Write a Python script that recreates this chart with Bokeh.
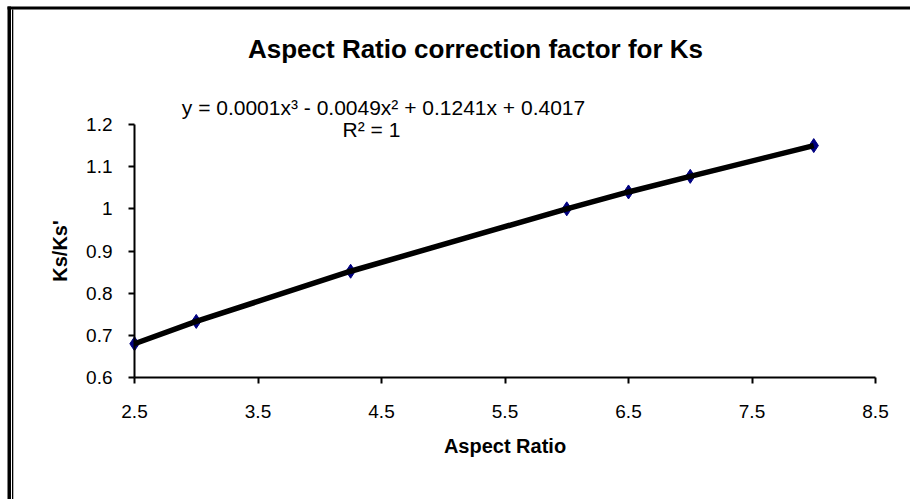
from bokeh.plotting import figure
from bokeh.models import Range1d, FixedTicker, Label
from bokeh.embed import file_html
from bokeh.resources import INLINE

# Measured correction factor against aspect ratio
aspect_ratio = [2.5, 3.0, 4.25, 6.0, 6.5, 7.0, 8.0]
ks_ratio = [0.68, 0.733, 0.852, 1.0, 1.04, 1.077, 1.15]

x_ticks = [2.5, 3.5, 4.5, 5.5, 6.5, 7.5, 8.5]
y_ticks = [0.6, 0.7, 0.8, 0.9, 1.0, 1.1, 1.2]

title_text = "Aspect Ratio correction factor for Ks"
equation_text = "y = 0.0001x\u00b3 - 0.0049x\u00b2 + 0.1241x + 0.4017"
r2_text = "R\u00b2 = 1"

FONT = "'Liberation Sans', Arial, sans-serif"

W, H = 910, 499
# pixel box of the plotting area inside the chart
PX_L, PX_R, PX_T, PX_B = 134, 875, 124, 377
x0, x1 = x_ticks[0], x_ticks[-1]
y0, y1 = y_ticks[0], y_ticks[-1]
sx = (PX_R - PX_L) / (x1 - x0)
sy = (PX_B - PX_T) / (y1 - y0)


def xd(px):
    """Canvas pixel column -> data x."""
    return x0 + (px - PX_L) / sx


def yd(py):
    """Canvas pixel row (from the top) -> data y."""
    return y0 + (PX_B - py) / sy


# the frame covers the whole canvas; axes sit at fixed data locations
p = figure(
    width=W, height=H,
    x_range=Range1d(xd(0), xd(W)),
    y_range=Range1d(yd(H), yd(0)),
    output_backend="svg", toolbar_location=None,
    min_border=0,
)
p.outline_line_color = None
p.grid.visible = False
p.background_fill_color = "white"
p.border_fill_color = "white"

for ax in (p.xaxis[0], p.yaxis[0]):
    ax.axis_line_color = "black"
    ax.axis_line_width = 2
    ax.major_tick_line_color = "black"
    ax.major_tick_line_width = 2
    ax.major_tick_out = 6
    ax.major_tick_in = 0
    ax.minor_tick_line_color = None
    ax.major_label_text_font = FONT
    ax.major_label_text_font_size = "19px"
    ax.major_label_text_color = "black"
    ax.axis_label_text_font = FONT
    ax.axis_label_text_font_size = "20px"
    ax.axis_label_text_font_style = "bold"
    ax.axis_label_text_color = "black"

p.xaxis.fixed_location = y0
p.yaxis.fixed_location = x0
p.xaxis.bounds = (x0, x1)
p.yaxis.bounds = (y0, y1)
p.xaxis.ticker = FixedTicker(ticks=x_ticks)
p.yaxis.ticker = FixedTicker(ticks=y_ticks)
p.yaxis.major_label_overrides = {1.0: "1"}
p.xaxis.axis_label = "Aspect Ratio"
p.yaxis.axis_label = "Ks/Ks'"
p.xaxis.major_label_standoff = 21
p.yaxis.major_label_standoff = 16
p.xaxis.axis_label_standoff = 14
p.yaxis.axis_label_standoff = 12

# chart border: heavy rule across the top, double rule down the left
p.quad(left=[xd(7), xd(7), xd(11.5)],
       right=[xd(W + 30), xd(10.5), xd(12.8)],
       top=[yd(6), yd(6), yd(9)],
       bottom=[yd(9), yd(H + 30), yd(H + 30)],
       fill_color="black", line_color=None)

# data markers and the cubic trendline through them
p.scatter(aspect_ratio, ks_ratio, marker="diamond", size=14,
          fill_color="#000080", line_color="#000080")
p.line(aspect_ratio, ks_ratio, line_color="black", line_width=5.5)


def screen_label(cx, cy, text, size, bold=False):
    return Label(x=xd(cx), y=yd(cy), text=text, text_font=FONT,
                 text_font_size=size,
                 text_font_style="bold" if bold else "normal",
                 text_color="black", text_align="center",
                 text_baseline="middle")


p.add_layout(screen_label(475, 48, title_text, "26px", bold=True))
p.add_layout(screen_label(383, 107, equation_text, "21px"))
p.add_layout(screen_label(371, 129, r2_text, "21px"))

open("out.html", "w").write(file_html(p, INLINE))
